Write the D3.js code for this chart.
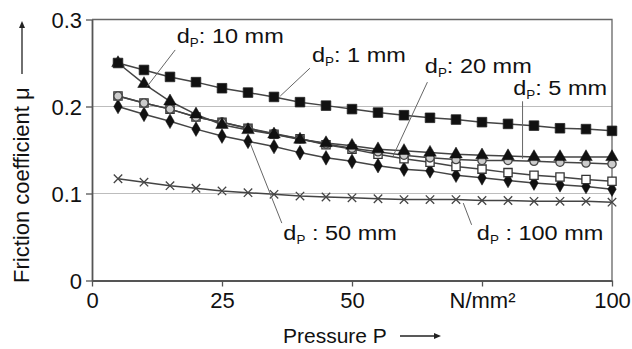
<!DOCTYPE html>
<html>
<head>
<meta charset="utf-8">
<script src="https://cdn.jsdelivr.net/npm/d3@7"></script>
<style>
  body { margin: 0; background: #fff; }
  text { font-family: "Liberation Sans", Arial, sans-serif; fill: #111; }
</style>
</head>
<body>
<div id="main"></div>
<script>
const ctx = {
    WIDTH: 632,
    HEIGHT: 349,
};

// pressure P in N/mm^2
const pressure = [5, 10, 15, 20, 25, 30, 35, 40, 45, 50, 55, 60, 65, 70, 75, 80, 85, 90, 95, 100];

// friction coefficient per punch diameter
const mu_1mm   = [0.250, 0.242, 0.234, 0.228, 0.221, 0.216, 0.211, 0.205, 0.201, 0.197, 0.193, 0.190, 0.187, 0.185, 0.182, 0.180, 0.178, 0.175, 0.174, 0.172];
const mu_5mm   = [0.212, 0.204, 0.197, 0.188, 0.182, 0.175, 0.169, 0.163, 0.157, 0.152, 0.148, 0.144, 0.141, 0.139, 0.138, 0.138, 0.137, 0.136, 0.135, 0.134];
const mu_10mm  = [0.250, 0.226, 0.206, 0.191, 0.179, 0.173, 0.168, 0.162, 0.158, 0.155, 0.151, 0.149, 0.147, 0.145, 0.144, 0.143, 0.142, 0.142, 0.142, 0.142];
const mu_20mm  = [0.212, 0.204, 0.197, 0.188, 0.182, 0.175, 0.168, 0.163, 0.156, 0.151, 0.145, 0.140, 0.136, 0.131, 0.128, 0.124, 0.121, 0.119, 0.116, 0.114];
const mu_50mm  = [0.200, 0.191, 0.183, 0.174, 0.166, 0.160, 0.154, 0.147, 0.141, 0.137, 0.132, 0.128, 0.126, 0.121, 0.118, 0.115, 0.112, 0.110, 0.108, 0.105];
const mu_100mm = [0.117, 0.113, 0.109, 0.106, 0.103, 0.101, 0.099, 0.097, 0.096, 0.095, 0.094, 0.093, 0.093, 0.093, 0.092, 0.092, 0.091, 0.091, 0.091, 0.090];

const xTicks = [0, 25, 50, 75, 100];
const xTickLabels = ["0", "25", "50", "N/mm\u00B2", "100"];
const yTicks = [0, 0.1, 0.2, 0.3];
const yTickLabels = ["0", "0.1", "0.2", "0.3"];

// label text, label anchor and leader line (data units)
const labels = [
    {size: "10 mm",  sep: ": ",  tx: 16.3, ty: 0.273, x1: 16.0, y1: 0.265, x2: 10.6, y2: 0.223},
    {size: "1 mm",   sep: ": ",  tx: 42.3, ty: 0.251, x1: 41.9, y1: 0.244, x2: 36.2, y2: 0.212},
    {size: "20 mm",  sep: ": ",  tx: 64.0, ty: 0.239, x1: 64.5, y1: 0.228, x2: 57.9, y2: 0.143},
    {size: "5 mm",   sep: ": ",  tx: 81.0, ty: 0.213, x1: 82.8, y1: 0.206, x2: 82.8, y2: 0.140},
    {size: "50 mm",  sep: " : ", tx: 36.8, ty: 0.047, x1: 36.5, y1: 0.066, x2: 30.4, y2: 0.158},
    {size: "100 mm", sep: " : ", tx: 74.0, ty: 0.047, x1: 73.0, y1: 0.064, x2: 71.4, y2: 0.089},
];

const series = [
    {name: "100 mm", values: mu_100mm, symbol: d3.symbolX || d3.symbolTimes, size: 48, fill: "none", stroke: "#444", sw: 1.3},
    {name: "50 mm",  values: mu_50mm,  symbol: d3.symbolDiamond, size: 62, fill: "#111", stroke: "#111", sw: 0.5},
    {name: "20 mm",  values: mu_20mm,  symbol: d3.symbolSquare,  size: 68, fill: "#fff", stroke: "#333", sw: 1.3},
    {name: "5 mm",   values: mu_5mm,   symbol: d3.symbolCircle,  size: 54, fill: "#ccc", stroke: "#444", sw: 1.3},
    {name: "10 mm",  values: mu_10mm,  symbol: d3.symbolTriangle, size: 68, fill: "#111", stroke: "#111", sw: 0.5},
    {name: "1 mm",   values: mu_1mm,   symbol: d3.symbolSquare,  size: 92, fill: "#111", stroke: "#222", sw: 0.8},
];

const x = d3.scaleLinear().domain([0, 100]).range([92, 612]);
const y = d3.scaleLinear().domain([0, 0.3]).range([280.5, 19.5]);

function createViz(){
    let svgEl = d3.select("#main").append("svg")
        .attr("width", ctx.WIDTH)
        .attr("height", ctx.HEIGHT);

    // grid lines
    svgEl.append("g").selectAll("line")
        .data([0.1, 0.2])
        .enter()
        .append("line")
        .attr("x1", x(0)).attr("x2", x(100))
        .attr("y1", d => y(d)).attr("y2", d => y(d))
        .style("stroke", "#bdbdbd")
        .style("stroke-width", 1);

    // frame top + right
    svgEl.append("path")
        .attr("d", `M${x(0)},${y(0.3)} H${x(100)} V${y(0)}`)
        .style("fill", "none")
        .style("stroke", "#666")
        .style("stroke-width", 1.3);

    // axes
    let yAxis = d3.axisLeft(y).tickValues(yTicks).tickSize(6).tickSizeOuter(0)
                  .tickFormat((d, i) => yTickLabels[i]);
    let xAxis = d3.axisBottom(x).tickValues(xTicks).tickSize(6).tickSizeOuter(0)
                  .tickFormat((d, i) => xTickLabels[i]);

    let gy = svgEl.append("g").attr("transform", `translate(${x(0)},0)`).call(yAxis);
    let gx = svgEl.append("g").attr("transform", `translate(0,${y(0)})`).call(xAxis);
    [gx, gy].forEach(g => {
        g.select(".domain").style("stroke", "#555").style("stroke-width", 1.8);
        g.selectAll(".tick line").style("stroke", "#555").style("stroke-width", 1.3);
        g.selectAll(".tick text")
            .style("font-family", "'Liberation Sans', Arial, sans-serif")
            .style("font-size", "22px")
            .style("fill", "#111");
    });
    gy.selectAll(".tick text").attr("x", -10).attr("dy", "0.36em");
    gx.selectAll(".tick text").attr("y", 11).attr("dy", "0.75em");

    // series lines + markers
    let line = d3.line().x((d, i) => x(pressure[i])).y(d => y(d));
    series.forEach(s => {
        let g = svgEl.append("g");
        g.append("path")
            .attr("d", line(s.values))
            .style("fill", "none")
            .style("stroke", "#444")
            .style("stroke-width", 1.5);
        g.selectAll("path.m")
            .data(s.values)
            .enter()
            .append("path")
            .attr("class", "m")
            .attr("transform", (d, i) => `translate(${x(pressure[i])},${y(d)})`)
            .attr("d", d3.symbol().type(s.symbol).size(s.size))
            .style("fill", s.fill)
            .style("stroke", s.stroke)
            .style("stroke-width", s.sw);
    });

    // annotations
    let ann = svgEl.append("g");
    ann.selectAll("line")
        .data(labels)
        .enter()
        .append("line")
        .attr("x1", d => x(d.x1)).attr("y1", d => y(d.y1))
        .attr("x2", d => x(d.x2)).attr("y2", d => y(d.y2))
        .style("stroke", "#666")
        .style("stroke-width", 1);
    let txt = ann.selectAll("text")
        .data(labels)
        .enter()
        .append("text")
        .attr("transform", d => `translate(${x(d.tx)},${y(d.ty)}) scale(1.12,1)`)
        .style("font-size", "21px");
    txt.append("tspan").text("d");
    txt.append("tspan").attr("dy", 4).style("font-size", "12px").text("P");
    txt.append("tspan").attr("dy", -4).text(d => d.sep + d.size);

    // axis titles
    svgEl.append("text")
        .attr("x", 283).attr("y", 343)
        .style("font-size", "21px")
        .text("Pressure P");
    arrow(svgEl, 400, 336, 441, 336);

    svgEl.append("text")
        .attr("transform", "translate(29,283) rotate(-90)")
        .style("font-size", "22px")
        .text("Friction coefficient \u03BC");
    arrow(svgEl, 22, 74, 22, 21);
}

function arrow(svgEl, x1, y1, x2, y2){
    let a = Math.atan2(y2 - y1, x2 - x1);
    let len = 7, w = 3;
    svgEl.append("line")
        .attr("x1", x1).attr("y1", y1)
        .attr("x2", x2 - Math.cos(a) * len * 0.8).attr("y2", y2 - Math.sin(a) * len * 0.8)
        .style("stroke", "#222")
        .style("stroke-width", 1.3);
    let bx = x2 - Math.cos(a) * len, by = y2 - Math.sin(a) * len;
    let px = -Math.sin(a) * w, py = Math.cos(a) * w;
    svgEl.append("path")
        .attr("d", `M${x2},${y2} L${bx + px},${by + py} L${bx - px},${by - py} Z`)
        .style("fill", "#222");
}

createViz();
</script>
</body>
</html>
